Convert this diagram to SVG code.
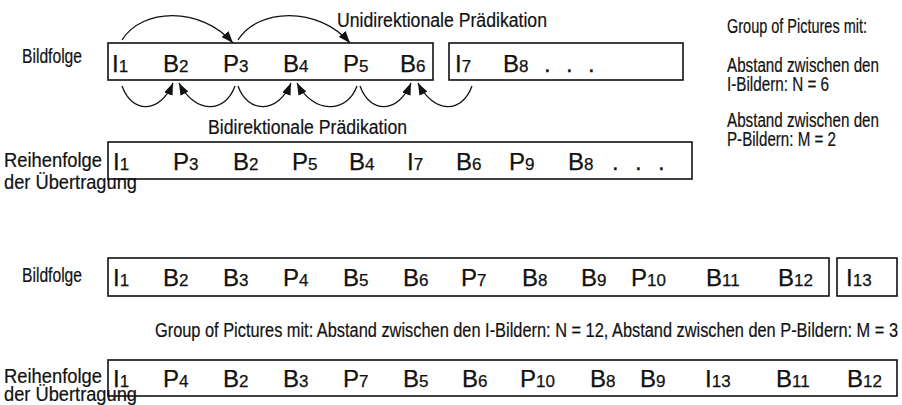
<svg xmlns="http://www.w3.org/2000/svg" width="902" height="405" viewBox="0 0 902 405">
<style>
.lbl{font-family:"Liberation Sans Narrow","Liberation Sans",Arial,sans-serif;font-size:20px;fill:#111;stroke:#111;stroke-width:0.2}
.fr{font-family:"Liberation Sans",Arial,sans-serif;font-size:24px;fill:#111;stroke:#111;stroke-width:0.25}
.fr tspan{font-size:17px}
.fr tspan.L{font-size:24px}
.box{fill:none;stroke:#111;stroke-width:1.6}
.arc{fill:none;stroke:#111;stroke-width:1.3;marker-end:url(#ah)}
</style>
<defs>
<marker id="ah" markerUnits="userSpaceOnUse" markerWidth="13" markerHeight="9" refX="12" refY="4.5" orient="auto">
<path d="M0,0 L12,4.5 L0,9 z" fill="#111"/>
</marker>
</defs>

<g id="labels-left">
<text class="lbl" x="22" y="63" textLength="60" lengthAdjust="spacingAndGlyphs">Bildfolge</text>
<text class="lbl" x="4" y="167" textLength="98" lengthAdjust="spacingAndGlyphs">Reihenfolge</text>
<text class="lbl" x="4" y="189" textLength="133" lengthAdjust="spacingAndGlyphs">der Übertragung</text>
<text class="lbl" x="22" y="282" textLength="60" lengthAdjust="spacingAndGlyphs">Bildfolge</text>
<text class="lbl" x="4" y="383" textLength="98" lengthAdjust="spacingAndGlyphs">Reihenfolge</text>
<text class="lbl" x="4" y="401" textLength="133" lengthAdjust="spacingAndGlyphs">der Übertragung</text>
</g>

<g id="gop-info">
<text class="lbl" x="727" y="33" textLength="140" lengthAdjust="spacingAndGlyphs">Group of Pictures mit:</text>
<text class="lbl" x="727" y="72" textLength="152" lengthAdjust="spacingAndGlyphs">Abstand zwischen den</text>
<text class="lbl" x="727" y="91" textLength="102" lengthAdjust="spacingAndGlyphs">I-Bildern: N = 6</text>
<text class="lbl" x="727" y="127" textLength="152" lengthAdjust="spacingAndGlyphs">Abstand zwischen den</text>
<text class="lbl" x="727" y="146" textLength="109" lengthAdjust="spacingAndGlyphs">P-Bildern: M = 2</text>
<text class="lbl" x="155" y="337" textLength="743" lengthAdjust="spacingAndGlyphs">Group of Pictures mit: Abstand zwischen den I-Bildern: N = 12, Abstand zwischen den P-Bildern: M = 3</text>
</g>

<g id="row1">
<rect class="box" x="108" y="43" width="325" height="37"/>
<text class="fr" y="72"><tspan class="L" x="112">I</tspan><tspan>1</tspan><tspan class="L" x="163">B</tspan><tspan>2</tspan><tspan class="L" x="223">P</tspan><tspan>3</tspan><tspan class="L" x="283">B</tspan><tspan>4</tspan><tspan class="L" x="343">P</tspan><tspan>5</tspan><tspan class="L" x="400">B</tspan><tspan>6</tspan></text>
</g>
<g id="row1b">
<rect class="box" x="449" y="43" width="234" height="37"/>
<text class="fr" y="72"><tspan class="L" x="455">I</tspan><tspan>7</tspan><tspan class="L" x="503">B</tspan><tspan>8</tspan><tspan class="L" x="544">.</tspan><tspan class="L" x="566">.</tspan><tspan class="L" x="588">.</tspan></text>
</g>

<g id="row2">
<rect class="box" x="108" y="142" width="584" height="37"/>
<text class="fr" y="170"><tspan class="L" x="113">I</tspan><tspan>1</tspan><tspan class="L" x="173">P</tspan><tspan>3</tspan><tspan class="L" x="233">B</tspan><tspan>2</tspan><tspan class="L" x="292">P</tspan><tspan>5</tspan><tspan class="L" x="349">B</tspan><tspan>4</tspan><tspan class="L" x="407">I</tspan><tspan>7</tspan><tspan class="L" x="456">B</tspan><tspan>6</tspan><tspan class="L" x="509">P</tspan><tspan>9</tspan><tspan class="L" x="568">B</tspan><tspan>8</tspan><tspan class="L" x="612">.</tspan><tspan class="L" x="635">.</tspan><tspan class="L" x="658">.</tspan></text>
</g>

<g id="row3">
<rect class="box" x="108" y="258" width="721" height="38"/>
<text class="fr" y="286"><tspan class="L" x="113">I</tspan><tspan>1</tspan><tspan class="L" x="163">B</tspan><tspan>2</tspan><tspan class="L" x="223">B</tspan><tspan>3</tspan><tspan class="L" x="283">P</tspan><tspan>4</tspan><tspan class="L" x="343">B</tspan><tspan>5</tspan><tspan class="L" x="403">B</tspan><tspan>6</tspan><tspan class="L" x="461">P</tspan><tspan>7</tspan><tspan class="L" x="522">B</tspan><tspan>8</tspan><tspan class="L" x="581">B</tspan><tspan>9</tspan><tspan class="L" x="631">P</tspan><tspan>10</tspan><tspan class="L" x="706">B</tspan><tspan>11</tspan><tspan class="L" x="778">B</tspan><tspan>12</tspan></text>
</g>
<g id="row3b">
<rect class="box" x="837" y="258" width="60" height="38"/>
<text class="fr" y="286"><tspan class="L" x="846">I</tspan><tspan>13</tspan></text>
</g>

<g id="row4">
<rect class="box" x="108" y="360" width="789" height="36"/>
<text class="fr" y="387"><tspan class="L" x="113">I</tspan><tspan>1</tspan><tspan class="L" x="163">P</tspan><tspan>4</tspan><tspan class="L" x="223">B</tspan><tspan>2</tspan><tspan class="L" x="283">B</tspan><tspan>3</tspan><tspan class="L" x="343">P</tspan><tspan>7</tspan><tspan class="L" x="403">B</tspan><tspan>5</tspan><tspan class="L" x="462">B</tspan><tspan>6</tspan><tspan class="L" x="520">P</tspan><tspan>10</tspan><tspan class="L" x="590">B</tspan><tspan>8</tspan><tspan class="L" x="640">B</tspan><tspan>9</tspan><tspan class="L" x="705">I</tspan><tspan>13</tspan><tspan class="L" x="776">B</tspan><tspan>11</tspan><tspan class="L" x="847">B</tspan><tspan>12</tspan></text>
</g>

<g id="connectors">
<path class="arc" d="M122,40 C142,8 200,6 233,43"/>
<path class="arc" d="M238,40 C258,8 318,6 350,43"/>
<path class="arc" d="M122,86 C132,114 160,114 173,83"/>
<path class="arc" d="M235,86 C225,114 195,114 179,83"/>
<path class="arc" d="M238,86 C248,114 278,114 291,83"/>
<path class="arc" d="M357,86 C347,114 313,114 297,83"/>
<path class="arc" d="M360,86 C370,114 398,114 411,83"/>
<path class="arc" d="M472,86 C462,114 434,114 418,83"/>
</g>

<g id="arc-labels">
<text class="lbl" x="337" y="27" textLength="210" lengthAdjust="spacingAndGlyphs">Unidirektionale Prädikation</text>
<text class="lbl" x="208" y="134" textLength="199" lengthAdjust="spacingAndGlyphs">Bidirektionale Prädikation</text>
</g>
</svg>
